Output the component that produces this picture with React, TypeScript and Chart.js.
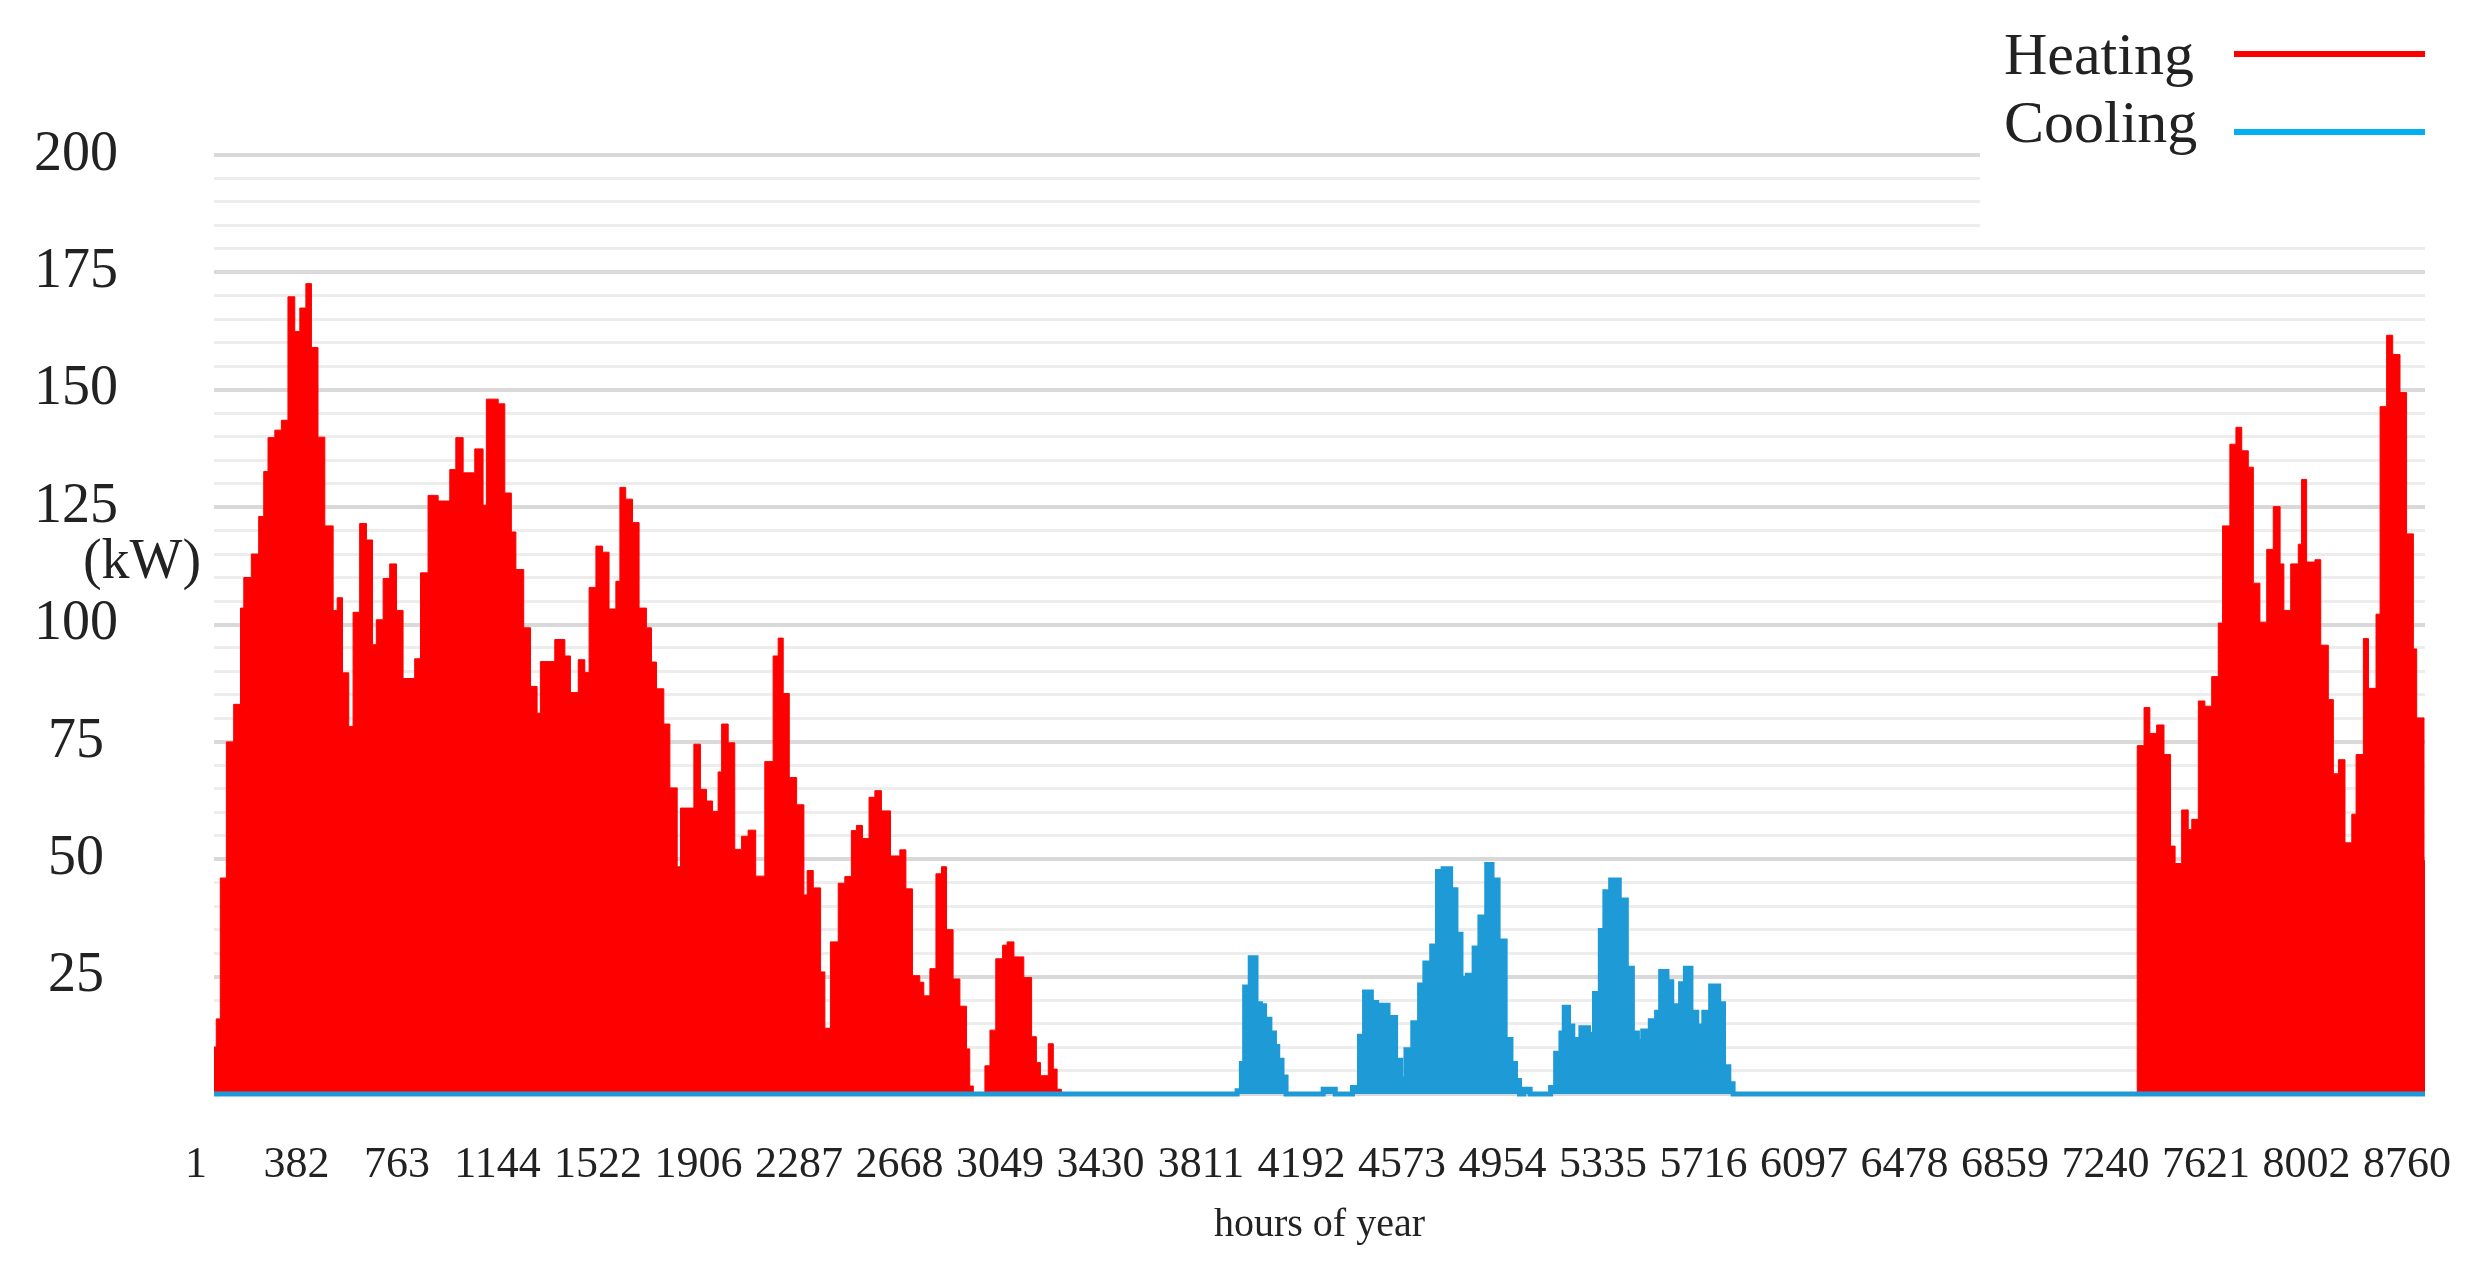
import React, { useEffect, useRef } from 'react';
import { Chart, registerables } from 'chart.js';

Chart.register(...registerables);

// X-axis tick labels (hours of year)
const xTickLabels = ['1', '382', '763', '1144', '1522', '1906', '2287', '2668', '3049', '3430', '3811', '4192', '4573', '4954', '5335', '5716', '6097', '6478', '6859', '7240', '7621', '8002', '8760'];

// Heating load (kW): each value holds from its start hour until the next start hour
const heatingHours = [
  1, 10, 26, 50, 79, 106, 119, 149, 178, 198, 215, 242, 268, 294, 321, 341, 365, 387, 413, 440,
  473, 489, 510, 535, 552, 578, 605, 629, 644, 671, 697, 724, 750, 796, 819, 849, 889, 935, 959, 988,
  1034, 1067, 1080, 1127, 1153, 1179, 1197, 1228, 1255, 1281, 1294, 1351, 1391, 1413, 1444, 1470, 1487, 1514, 1540, 1566,
  1593, 1609, 1632, 1659, 1685, 1714, 1734, 1754, 1783, 1807, 1836, 1849, 1902, 1928, 1952, 1976, 1998, 2012, 2038, 2064,
  2091, 2117, 2147, 2183, 2216, 2236, 2256, 2280, 2309, 2338, 2351, 2375, 2404, 2421, 2443, 2474, 2500, 2526, 2546, 2570,
  2596, 2619, 2645, 2681, 2718, 2742, 2768, 2797, 2813, 2837, 2861, 2883, 2903, 2929, 2956, 2982, 2995, 3009, 3055, 3075,
  3098, 3125, 3143, 3170, 3209, 3240, 3259, 3275, 3306, 3326, 3341, 3358,
  7620, 7647, 7670, 7697, 7726, 7752, 7770, 7796, 7822, 7836, 7862, 7888, 7915, 7941, 7958, 7987, 8011, 8034, 8060, 8080,
  8106, 8133, 8159, 8186, 8201, 8228, 8258, 8271, 8291, 8324, 8347, 8377, 8397, 8417, 8443, 8470, 8487, 8516, 8536, 8566,
  8582, 8608, 8632, 8661, 8687, 8714, 8727, 8756, 8760,
];
const heatingLoad = [
  10, 16, 46, 75, 83, 103.5, 110, 115, 123, 132.6, 139.8, 141.4, 143.5, 169.8, 162.4, 167.4, 172.6, 159, 139.9, 121,
  103, 105.7, 89.7, 78.3, 102.6, 121.5, 118, 95.7, 101, 109.8, 112.9, 103, 88.5, 92.7, 111, 127.5, 126.3, 133, 139.8, 132.3,
  137.4, 125.4, 148, 147, 128, 119.7, 111.7, 99.3, 86.8, 81.1, 92.1, 96.8, 93.3, 85.5, 92.5, 89.8, 107.9, 116.7, 115.4, 103.3,
  109.2, 129.2, 126.7, 121.7, 103.5, 99.3, 92, 86.3, 78.8, 65.2, 48.4, 60.9, 74.5, 64.9, 62.4, 60.2, 68.6, 78.8, 74.8, 52.1,
  54.9, 56.2, 46.4, 70.8, 93.3, 97.1, 85.3, 67.4, 61.6, 42.4, 47.6, 43.9, 26, 14, 32.4, 44.9, 46.3, 56.1, 57.2, 54.4,
  63.2, 64.6, 60.3, 50.7, 52, 43.7, 25.2, 23.8, 20.9, 26.7, 46.9, 48.4, 35, 24.5, 18.7, 9.6, 1.7, 0, 6, 13.6,
  28.8, 31.7, 32.4, 29.2, 24.8, 12.2, 6.7, 3.9, 10.7, 5.3, 1, 0,
  74.2, 82.3, 76.8, 78.6, 72.3, 52.8, 49.1, 60.5, 56.3, 58.5, 83.7, 82.6, 88.9, 100.3, 121, 138.4, 142, 137, 133.5, 108.8,
  100.5, 116, 125.1, 112.9, 103, 112.9, 117.1, 130.9, 113.3, 113.8, 95.6, 84, 68.2, 71.2, 53.5, 59.6, 72.3, 97, 86.4, 102.2,
  146.4, 161.6, 157.5, 149.4, 119.3, 94.8, 80.1, 49.7, 49.7,
];

// Cooling load (kW): each value holds from its start hour until the next start hour
const coolingHours = [
  1, 4054, 4071, 4084, 4106, 4129, 4147, 4163, 4184, 4202, 4215, 4232, 4248, 4395, 4443, 4511, 4539, 4559, 4586, 4607,
  4652, 4682, 4702, 4723, 4750, 4777, 4798, 4825, 4848, 4870, 4900, 4921, 4941, 4966, 4993, 5016, 5043, 5064, 5088, 5116,
  5139, 5157, 5173, 5190, 5215, 5296, 5316, 5337, 5350, 5367, 5384, 5405, 5416, 5446, 5470, 5493, 5511, 5534, 5568, 5596,
  5620, 5640, 5661, 5691, 5716, 5732, 5757, 5776, 5811, 5830, 5852, 5875, 5903, 5930, 5962, 5981, 6002, 6019, 8760,
];
const coolingLoad = [
  0, 0.7, 6.5, 22.8, 29, 19.2, 18.8, 15.9, 13, 10.1, 7.2, 3.6, 0, 1, 0, 1.4, 12.3, 21.7, 19.5, 18.9,
  16.3, 7.2, 3.2, 9.4, 15.2, 23.2, 27.9, 31.5, 47.4, 48, 43.5, 34, 24.6, 25.3, 31.1, 37.7, 48.9, 45.6, 32.6, 11.6,
  6.5, 2.9, 0, 1, 0, 1.4, 8.7, 13, 18.5, 14.5, 11.6, 9.4, 14.1, 12.7, 21.4, 34.8, 43.1, 45.6, 41.3, 26.8,
  13, 11.2, 13.4, 15.6, 17.4, 26.1, 23.9, 18.8, 23.5, 26.8, 17.4, 14.5, 17.4, 23, 19.2, 5.8, 2.2, 0, 0,
];

const seriesNames = ['Heating', 'Cooling'];
const yMin = 0;
const yMax = 200;
const yGridStep = 5;
const yLabelStep = 25;

const HEAT_COLOR = '#FF0000';
const COOL_FILL = '#1E9BD7';
const COOL_LEGEND = '#00B0F0';
const TEXT_COLOR = '#222222';
const SERIF = "'Liberation Serif', 'Times New Roman', serif";

const overlayPlugin = {
  id: 'overlayLegend',
  afterDraw(chart: any) {
    const { ctx, chartArea } = chart;
    ctx.save();
    // white legend box covering the top-right gridlines
    ctx.fillStyle = '#ffffff';
    ctx.fillRect(1980, 0, chart.width - 1980, 238);
    ctx.font = `60px ${SERIF}`;
    ctx.textAlign = 'left';
    ctx.textBaseline = 'alphabetic';
    const items = [
      { text: seriesNames[0], color: HEAT_COLOR, base: 74, lineY: 54 },
      { text: seriesNames[1], color: COOL_LEGEND, base: 142, lineY: 132 },
    ];
    items.forEach((it) => {
      ctx.fillStyle = TEXT_COLOR;
      ctx.fillText(it.text, 2004, it.base);
      ctx.strokeStyle = it.color;
      ctx.lineWidth = 6;
      ctx.beginPath();
      ctx.moveTo(2234, it.lineY);
      ctx.lineTo(chartArea.right, it.lineY);
      ctx.stroke();
    });
    // unit label
    ctx.font = `56px ${SERIF}`;
    ctx.fillStyle = TEXT_COLOR;
    ctx.textAlign = 'center';
    ctx.textBaseline = 'middle';
    ctx.fillText('(kW)', 142, 563);
    ctx.restore();
  },
};

export default function App() {
  const canvasRef = useRef<HTMLCanvasElement | null>(null);

  useEffect(() => {
    if (!canvasRef.current) return;
    const heatingData = heatingHours.map((h, i) => ({ x: h, y: heatingLoad[i] }));
    const coolingData = coolingHours.map((h, i) => ({ x: h, y: coolingLoad[i] }));

    const chart = new Chart(canvasRef.current, {
      type: 'line',
      data: {
        datasets: [
          {
            label: seriesNames[1],
            data: coolingData,
            stepped: true,
            fill: 'origin',
            backgroundColor: COOL_FILL,
            borderColor: COOL_FILL,
            borderWidth: 5,
            pointRadius: 0,
            clip: 8,
            order: 1,
          },
          {
            label: seriesNames[0],
            data: heatingData,
            stepped: true,
            fill: 'origin',
            backgroundColor: HEAT_COLOR,
            borderColor: HEAT_COLOR,
            borderWidth: 1,
            pointRadius: 0,
            order: 2,
          },
        ],
      },
      options: {
        animation: false,
        responsive: true,
        maintainAspectRatio: false,
        layout: { padding: { top: 155, right: 60, left: 0, bottom: 0 } },
        plugins: {
          legend: { display: false },
          tooltip: { enabled: false },
        },
        scales: {
          x: {
            type: 'linear',
            min: 1,
            max: 8760,
            display: false,
          },
          xl: {
            type: 'category',
            labels: xTickLabels,
            position: 'bottom',
            offset: false,
            grid: { display: false, drawTicks: false },
            border: { display: false },
            ticks: {
              autoSkip: false,
              maxRotation: 0,
              minRotation: 0,
              padding: 45,
              labelOffset: -18,
              color: TEXT_COLOR,
              font: { family: SERIF, size: 44 },
            },
            title: {
              display: true,
              text: 'hours of year',
              color: TEXT_COLOR,
              font: { family: SERIF, size: 40 },
              padding: { top: 0, bottom: 22 },
            },
            afterFit: (s: any) => {
              s.height = 177;
              s.paddingLeft = 0;
              s.paddingRight = 0;
            },
          },
          y: {
            type: 'linear',
            min: yMin,
            max: yMax,
            border: { display: false },
            grid: {
              drawTicks: false,
              color: (c: any) => (c.tick && c.tick.value % yLabelStep === 0 ? '#D9D9D9' : '#EDEDED'),
              lineWidth: (c: any) => (c.tick && c.tick.value % yLabelStep === 0 ? 4 : 3),
            },
            ticks: {
              stepSize: yGridStep,
              maxTicksLimit: 100,
              autoSkip: false,
              crossAlign: 'center',
              padding: 96,
              color: TEXT_COLOR,
              font: { family: SERIF, size: 56 },
              callback: (v: any) => (Number(v) % yLabelStep === 0 && Number(v) !== 0 ? String(v) : ''),
            },
            afterFit: (s: any) => {
              s.width = 214;
            },
          },
        },
      } as any,
      plugins: [overlayPlugin],
    });
    return () => chart.destroy();
  }, []);

  return (
    <div style={{ position: 'fixed', left: 0, top: 0, width: '2485px', height: '1271px', background: '#ffffff' }}>
      <canvas ref={canvasRef} style={{ display: 'block' }} />
    </div>
  );
}
